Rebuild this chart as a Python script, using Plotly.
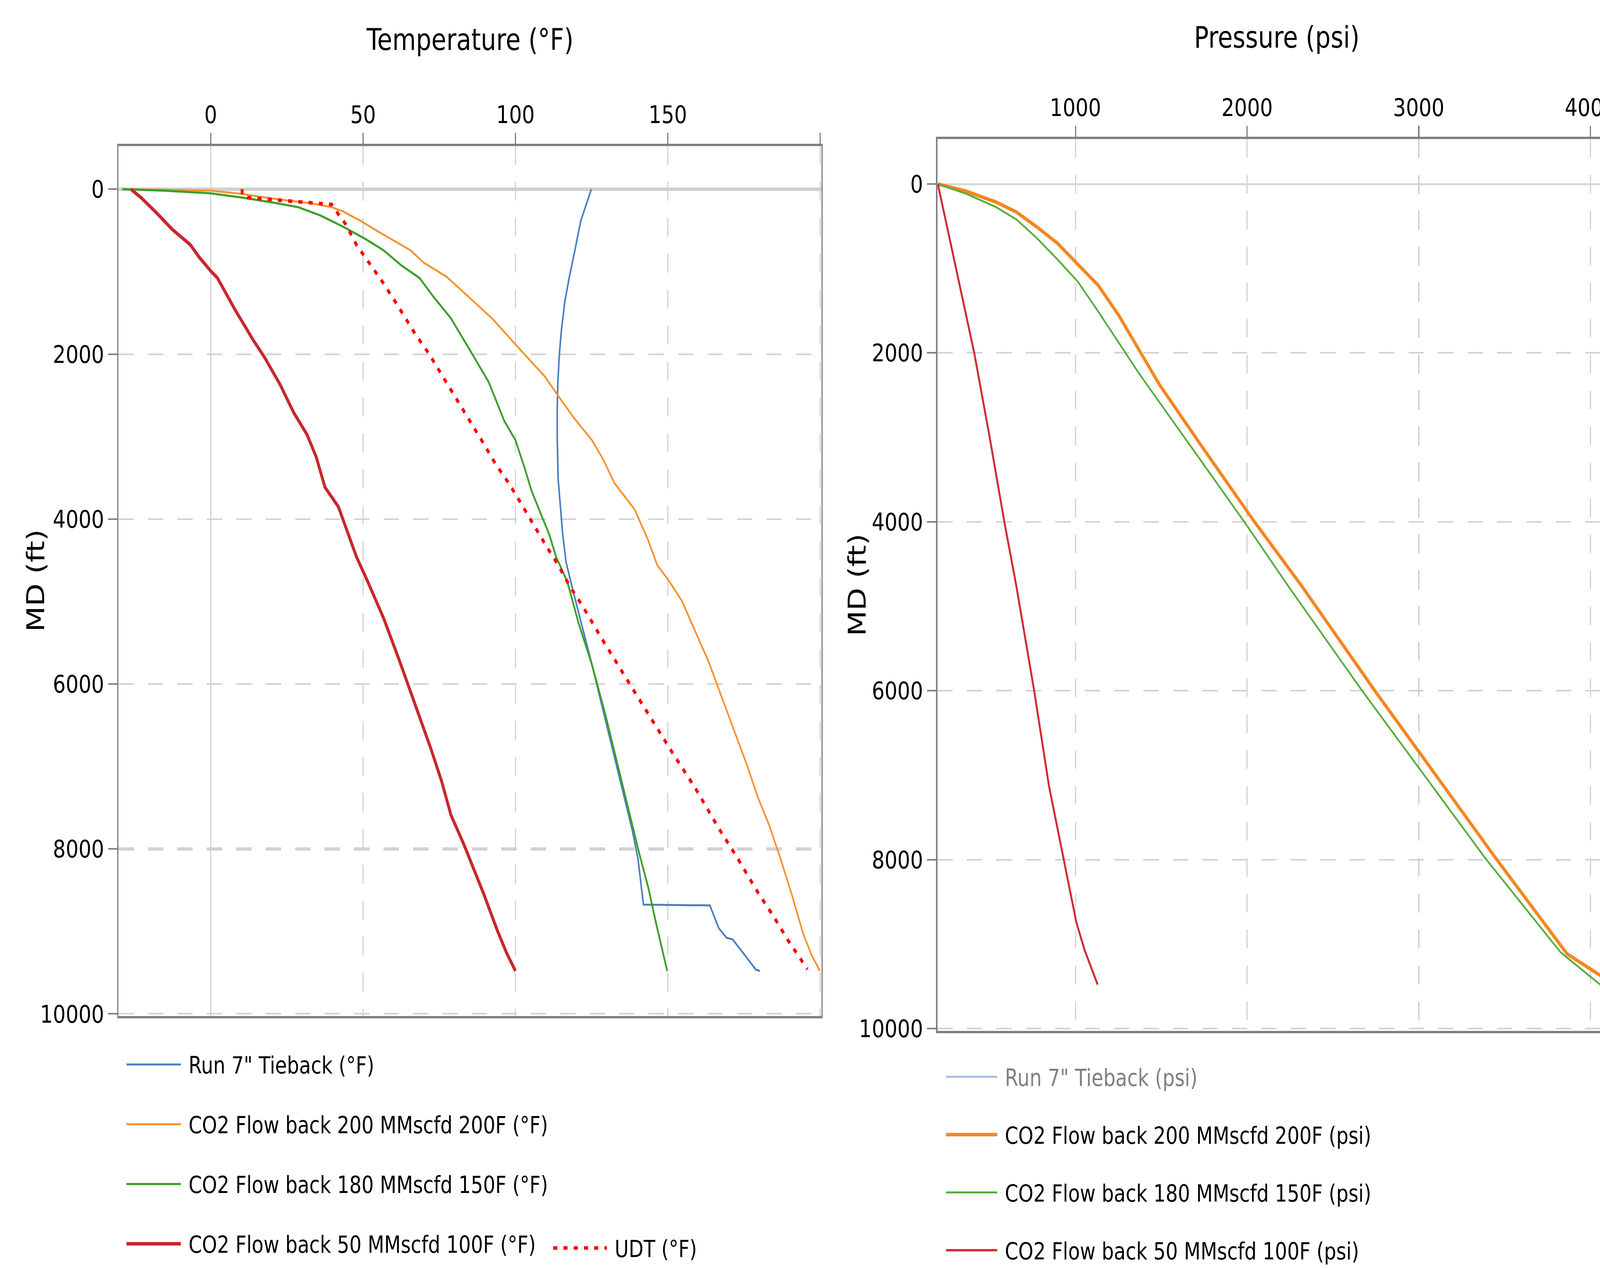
import plotly.graph_objects as go

# ---------------- Temperature panel (°F vs MD, ft) ----------------
tieback_md = [0, 387, 723, 1059, 1362, 1698, 2001, 2337, 2673, 3010, 3514, 3851, 4187, 4523,
              4858, 5766, 6439, 7111, 7784, 8120, 8675, 8685, 8961, 9079, 9096, 9213, 9465, 9480]
tieback_temp = [124.9, 121.4, 119.6, 117.7, 116.2, 115.1, 114.4, 113.9, 113.7, 113.7, 114.0, 114.8, 115.5, 116.6,
                118.8, 125.1, 129.5, 133.9, 138.4, 140.2, 142.0, 163.8, 166.7, 169.3, 171.2, 173.7, 178.9, 180.2]

fb200_md = [0, 17, 57, 118, 168, 218, 269, 387, 504, 740, 891, 1059, 1328, 1581, 1883, 2270, 2505, 2774,
            3044, 3279, 3565, 3884, 4254, 4557, 4757, 4992, 5362, 5732, 6102, 6539, 6977, 7380, 7717,
            8120, 8557, 9028, 9297, 9480]
fb200_temp = [-29.0, 0.0, 10.3, 21.3, 32.4, 39.7, 43.4, 49.3, 54.5, 65.5, 69.9, 77.3, 85.3, 92.7, 100.0, 109.6,
              114.0, 119.2, 125.1, 128.8, 132.5, 139.1, 143.5, 146.5, 150.5, 154.6, 159.0, 163.4, 167.1, 171.5,
              175.9, 179.6, 183.3, 187.0, 190.7, 194.4, 197.3, 199.9]

fb180_md = [0, 17, 50, 101, 168, 218, 319, 454, 605, 740, 925, 1076, 1295, 1564, 1967, 2337, 2808, 3044,
            3380, 3649, 3918, 4187, 4456, 4757, 5261, 5766, 6371, 7044, 7717, 8053, 8457, 8961, 9480]
fb180_temp = [-29.0, -15.5, 0.0, 10.3, 21.3, 28.7, 36.0, 43.4, 50.8, 56.7, 62.6, 68.5, 72.9, 78.8, 85.3, 91.2,
              96.3, 100.0, 103.0, 105.2, 108.1, 111.1, 113.3, 117.0, 120.7, 125.1, 129.5, 133.9, 138.4, 140.6,
              143.5, 146.5, 149.8]

fb50_md = [0, 101, 286, 488, 673, 824, 992, 1076, 1463, 1833, 2035, 2371, 2707, 2976, 3245, 3615, 3851,
           4154, 4456, 4757, 5199, 5704, 6242, 6780, 7183, 7587, 7957, 8150, 8557, 8994, 9263, 9480]
fb50_temp = [-26.2, -22.9, -17.8, -12.6, -6.7, -3.8, 0.0, 2.2, 8.0, 14.0, 17.6, 22.8, 27.2, 31.6, 34.6, 37.5,
             41.9, 44.9, 47.8, 51.5, 56.7, 61.8, 67.0, 72.2, 75.8, 78.8, 83.2, 85.3, 89.7, 94.1, 97.1, 100.0]

udt_md = [0, 70, 101, 185, 303, 420, 673, 908, 1143, 1396, 1749, 1984, 2337, 2707, 3094, 3329, 3565, 3834,
          4069, 4322, 4557, 4807, 5060, 5430, 5917, 6405, 6775, 7262, 7750, 8120, 8490, 8843, 9095, 9459]
udt_temp = [10.3, 10.3, 11.9, 39.7, 41.9, 44.2, 47.8, 52.3, 56.7, 61.1, 67.0, 71.4, 77.3, 83.2, 89.7, 93.4,
            97.8, 102.2, 105.9, 110.0, 114.0, 117.7, 122.1, 128.0, 136.1, 144.3, 150.5, 159.0, 166.7, 173.0,
            178.9, 185.1, 189.2, 195.8]

# ---------------- Pressure panel (psi vs MD, ft) ----------------
# the tieback pressure series is switched off (legend only) in the reference
tieback_psi_md = [None]
tieback_psi = [None]

fb200_psi_md = [0, 82, 214, 332, 509, 700, 950, 1199, 1552, 1964, 2375, 2728, 3081, 4007,
                4757, 5997, 7987, 9116, 9369, 9480]
fb200_psi = [198, 359, 537, 656, 775, 894, 1013, 1132, 1251, 1370, 1489, 1608, 1727, 2045,
             2317, 2743, 3450, 3864, 4057, 4140]

fb180_psi_md = [0, 112, 273, 420, 641, 891, 1155, 1508, 1876, 2243, 4007, 4757, 5997, 7987, 9099, 9480]
fb180_psi = [198, 359, 537, 656, 775, 894, 1013, 1132, 1251, 1370, 1986, 2238, 2669, 3389, 3827, 4057]

fb50_psi_md = [0, 1000, 2000, 3000, 4007, 4757, 5997, 7122, 7987, 8744, 9082, 9480]
fb50_psi = [198, 305, 410, 500, 586, 655, 759, 845, 931, 1005, 1055, 1129]

temp_ticks = [0, 50, 100, 150, 200]
temp_ticktext = ["0", "50", "100", "150", ""]
psi_ticks = [1000, 2000, 3000, 4000]
psi_ticktext = ["1000", "2000", "3000", "4000"]
md_ticks = [0, 2000, 4000, 6000, 8000, 10000]
md_ticktext = ["0", "2000", "4000", "6000", "8000", "10000"]

# ---------------- layout helpers (pixel geometry of the canvas) ----------------
W, H = 4998, 3246
FONT = "DejaVu Sans"
NB = "\u00a0"


def px_x(p):
    return p / W


def px_y(p):
    return 1 - p / H


fig = go.Figure()


def add_line(x, y, name, color, width, xa, ya, legend, dash="solid", visible=True):
    fig.add_trace(go.Scatter(
        x=x, y=y, name=NB + name, mode="lines",
        line=dict(color=color, width=width, dash=dash),
        xaxis=xa, yaxis=ya, legend=legend, legendgroup=name,
        visible=visible, hoverinfo="skip"))


add_line(tieback_temp, tieback_md, 'Run 7" Tieback (°F)', "#4a7fc1", 5, "x", "y", "legend")
add_line(fb200_temp, fb200_md, "CO2 Flow back 200 MMscfd 200F (°F)", "#f8912a", 5, "x", "y", "legend")
add_line(fb180_temp, fb180_md, "CO2 Flow back 180 MMscfd 150F (°F)", "#3e9e2b", 5.5, "x", "y", "legend")
add_line(fb50_temp, fb50_md, "CO2 Flow back 50 MMscfd 100F (°F)", "#c8272c", 9, "x", "y", "legend")
add_line(udt_temp, udt_md, "UDT (°F)", "#ff0000", 9, "x", "y", "legend2", dash="13px,19px")

add_line(tieback_psi, tieback_psi_md, 'Run 7" Tieback (psi)', "#4a7fc1", 5, "x2", "y2", "legend3",
         visible="legendonly")
add_line(fb200_psi, fb200_psi_md, "CO2 Flow back 200 MMscfd 200F (psi)", "#f5861f", 9, "x2", "y2", "legend3")
add_line(fb180_psi, fb180_psi_md, "CO2 Flow back 180 MMscfd 150F (psi)", "#58ad3c", 5, "x2", "y2", "legend3")
add_line(fb50_psi, fb50_psi_md, "CO2 Flow back 50 MMscfd 100F (psi)", "#cf2c31", 6, "x2", "y2", "legend3")

GRID = "#d2d2d2"
LINE = "#808080"
DASH = "48px,44px"
tickfont = dict(family=FONT, size=63, color="#000000")
common_x = dict(side="top", showgrid=True, gridcolor=GRID, gridwidth=4, griddash=DASH,
                showline=True, linecolor=LINE, linewidth=6, mirror=True,
                ticks="outside", ticklen=28, tickwidth=4, tickcolor=LINE,
                tickfont=tickfont, automargin=False, fixedrange=True, ticklabeloverflow="allow")
common_y = dict(showgrid=True, gridcolor=GRID, gridwidth=4, griddash=DASH,
                showline=True, linecolor=LINE, linewidth=4,
                ticks="outside", ticklen=28, tickwidth=4, tickcolor=LINE,
                tickvals=md_ticks, ticktext=md_ticktext, tickfont=tickfont,
                automargin=False, fixedrange=True)
legend_font = dict(family=FONT, size=60, color="#000000")

fig.update_layout(
    width=W, height=H,
    margin=dict(l=0, r=0, t=0, b=0),
    paper_bgcolor="white", plot_bgcolor="white",
    font=dict(family=FONT, color="#000000"),
    xaxis=dict(common_x, domain=[px_x(370), px_x(2566)], range=[-30.28, 200.4],
               tickvals=temp_ticks, ticktext=temp_ticktext, anchor="y",
               zeroline=True, zerolinecolor=GRID, zerolinewidth=4),
    yaxis=dict(common_y, domain=[px_y(2612), px_y(376)], range=[10025, -521], anchor="x",
               mirror=True, zeroline=True, zerolinecolor="#d0d0d0", zerolinewidth=9),
    xaxis2=dict(common_x, domain=[px_x(2928), 1.0], range=[195, 4056],
                tickvals=psi_ticks, ticktext=psi_ticktext, anchor="y2", zeroline=False),
    yaxis2=dict(common_y, domain=[px_y(2650), px_y(358)], range=[10026, -530], anchor="x2",
                mirror=False, zeroline=True, zerolinecolor="#d6d6d6", zerolinewidth=5),
    legend=dict(x=px_x(390), y=px_y(2691), xanchor="left", yanchor="top",
                font=legend_font, bgcolor="rgba(0,0,0,0)",
                tracegroupgap=72, itemwidth=170, orientation="v"),
    legend2=dict(x=px_x(1723), y=px_y(3163), xanchor="left", yanchor="top",
                 font=legend_font, bgcolor="rgba(0,0,0,0)",
                 itemwidth=168, orientation="v"),
    legend3=dict(x=px_x(2950), y=px_y(2723), xanchor="left", yanchor="top",
                 font=legend_font, bgcolor="rgba(0,0,0,0)",
                 tracegroupgap=67, itemwidth=160, orientation="v"),
    showlegend=True,
)

# the 8000 ft grid line of the temperature panel is drawn heavier in the reference
fig.add_shape(type="line", xref="x domain", yref="y", x0=0, x1=1, y0=md_ticks[4], y1=md_ticks[4],
              line=dict(color="#cbcbcb", width=8, dash=DASH), layer="below")

title_font = dict(family=FONT, size=76, color="#000000")
fig.add_annotation(text="Temperature (°F)", x=px_x(1468), y=px_y(102), xref="paper", yref="paper",
                   xanchor="center", yanchor="middle", showarrow=False, font=title_font)
fig.add_annotation(text="Pressure (psi)", x=px_x(3988), y=px_y(96), xref="paper", yref="paper",
                   xanchor="center", yanchor="middle", showarrow=False, font=title_font)
fig.add_annotation(text="MD (ft)", x=px_x(112), y=px_y(1493), xref="paper", yref="paper",
                   xanchor="center", yanchor="middle", textangle=-90, showarrow=False, font=title_font)
fig.add_annotation(text="MD (ft)", x=px_x(2677), y=px_y(1504), xref="paper", yref="paper",
                   xanchor="center", yanchor="middle", textangle=-90, showarrow=False, font=title_font)

# fit the fixed 4998x3246 figure exactly into the browser viewport (the browser caps its width)
fit_js = """
(function(){
  var gd = document.getElementById('{plot_id}');
  var de = document.documentElement, b = document.body;
  de.style.margin = '0'; b.style.margin = '0';
  de.style.overflow = 'hidden'; b.style.overflow = 'hidden';
  var sx = window.innerWidth / %d, sy = window.innerHeight / %d;
  var wrap = gd.parentElement;
  wrap.style.width = window.innerWidth + 'px';
  wrap.style.height = window.innerHeight + 'px';
  wrap.style.overflow = 'hidden';
  gd.style.transformOrigin = '0 0';
  gd.style.transform = 'scale(' + sx + ',' + sy + ')';
})();
""" % (W, H)

fig.write_html("out.html", post_script=fit_js, config={"displayModeBar": False})
